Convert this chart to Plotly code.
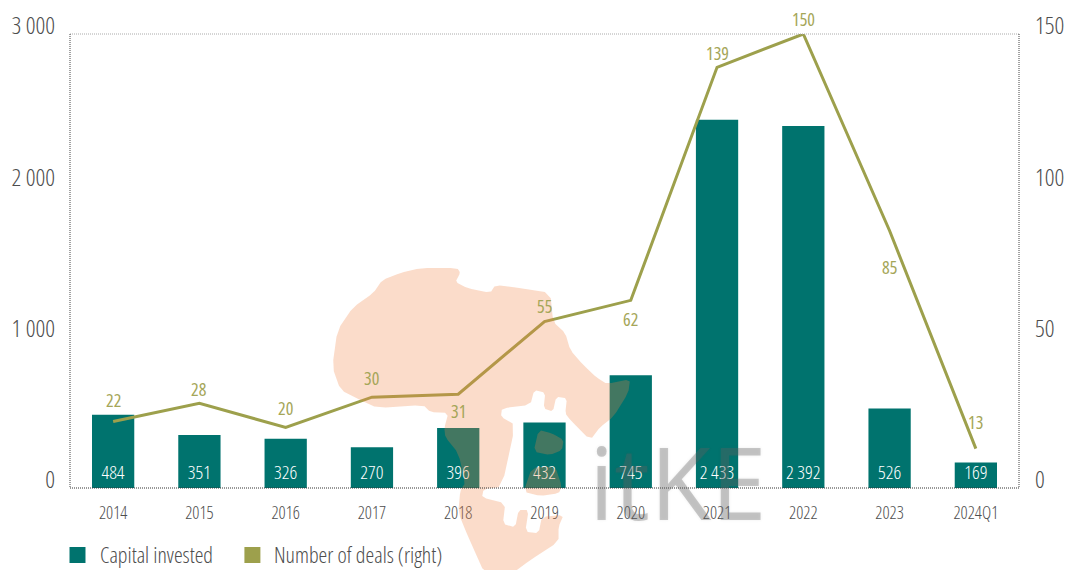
import plotly.graph_objects as go

years = ["2014", "2015", "2016", "2017", "2018", "2019", "2020", "2021", "2022", "2023", "2024Q1"]
capital = [484, 351, 326, 270, 396, 432, 745, 2433, 2392, 526, 169]
deals = [22, 28, 20, 30, 31, 55, 62, 139, 150, 85, 13]
deal_label_shift = [21, 14, 19, 19, -17, 16, -19, 14, 15, -36, 27]
y_ticks = [0, 1000, 2000, 3000]
y2_ticks = [0, 50, 100, 150]

TEAL = "#00736e"
OLIVE = "#9da04c"
LABEL_OLIVE = "#a5a658"
GREY = "#4d4d4d"
FONT = "Open Sans, sans-serif"
W, H = 1067, 570
L, R, T, B = 69.5, 1019, 34, 488


def sp(v):
    return f"{v:,}".replace(",", " ")


def cond(s, stretch="condensed"):
    return f"<span style='font-stretch:{stretch}'>{s}</span>"


def px(x):
    return (x - L) / (R - L)


def py(y):
    return (B - y) / (B - T)


def poly(points):
    return "M" + " L".join(f"{px(x):.4f},{py(y):.4f}" for x, y in points) + " Z"


def soften(points, cut=0.18):
    out = []
    n = len(points)
    for i in range(n):
        (x0, y0), (x1, y1) = points[i], points[(i + 1) % n]
        out.append((x0 + (x1 - x0) * cut, y0 + (y1 - y0) * cut))
        out.append((x1 - (x1 - x0) * cut, y1 - (y1 - y0) * cut))
    return out


def z4(x, y):
    return (430 + x / 3, 370 + y / 3)


# decorative watermark outline, in page pixels
africa = [
    (382, 280), (400, 273), (420, 268), (457, 268), (460, 273), (455, 282), (467, 288), (490, 293),
    (495, 285), (520, 288), (550, 293), (553, 322), (565, 333), (570, 350), (583, 365), (597, 378),
    (607, 384), (630, 379), (628, 393), (613, 417), (600, 427), (590, 440),
    z4(420, 150), z4(405, 130), z4(410, 85), z4(378, 80), z4(368, 125), z4(340, 115), z4(345, 68),
    z4(312, 60), z4(300, 105), z4(215, 115), z4(212, 140), z4(255, 165), z4(215, 350), z4(160, 358),
    z4(155, 382), z4(225, 400), z4(218, 462), z4(255, 472), z4(265, 420), z4(295, 420), z4(285, 485),
    z4(325, 490), z4(335, 440), z4(400, 435), z4(385, 470), z4(385, 515), z4(300, 570), (510, 575),
    (485, 575), (468, 537), (458, 513), (460, 490), (465, 483), (458, 453), (445, 437), (444, 428),
    (448, 413), (430, 412), (423, 405), (377, 408), (360, 400), (340, 390), (332, 367), (337, 330),
    (353, 307), (373, 293),
]
island_upper = [z4(325, 180), z4(365, 190), z4(400, 210), z4(395, 240), z4(360, 255), z4(310, 245)]
island_lower = [z4(305, 292), z4(375, 290), z4(395, 350), z4(385, 370), z4(330, 378), z4(280, 365)]

fig = go.Figure()
fig.add_bar(
    x=list(range(len(years))), y=capital, marker=dict(color=TEAL, line=dict(width=0)),
    text=[cond(sp(v)) for v in capital], textposition="inside", insidetextanchor="start",
    textangle=0, constraintext="none", textfont=dict(color="white", size=19, family=FONT, weight=350),
    cliponaxis=False, showlegend=False, hoverinfo="skip",
)
fig.add_scatter(
    x=list(range(len(years))), y=deals, yaxis="y2", mode="lines", line=dict(color=OLIVE, width=3),
    cliponaxis=False, showlegend=False, hoverinfo="skip",
)

annotations = [
    dict(x=i, y=v, xref="x", yref="y2", text=cond(v), showarrow=False, yshift=s,
         font=dict(size=18, color=LABEL_OLIVE, family=FONT, weight=400))
    for i, (v, s) in enumerate(zip(deals, deal_label_shift))
]
annotations += [
    dict(x=px(98), y=py(554), xref="paper", yref="paper", xanchor="left", yanchor="middle",
         text=cond("Capital invested"), showarrow=False, font=dict(size=22, color=GREY, family=FONT, weight=300)),
    dict(x=px(272), y=py(554), xref="paper", yref="paper", xanchor="left", yanchor="middle",
         text=cond("Number of deals (right)"), showarrow=False, font=dict(size=22, color=GREY, family=FONT, weight=300)),
    dict(x=px(678), y=py(481), xref="paper", yref="paper", xanchor="center", yanchor="middle",
         text=cond("itKE", "92%"), showarrow=False,
         font=dict(size=100, color="rgba(95,95,95,0.32)", family=FONT,
                   shadow="0 0 3px rgba(95,95,95,0.35)")),
]


def dotted(x0, y0, x1, y1, color):
    return dict(type="line", xref="paper", yref="paper", x0=px(x0), y0=py(y0), x1=px(x1), y1=py(y1),
                line=dict(color=color, width=1, dash="1px,1px"), layer="above")


shapes = [
    dict(type="path", xref="paper", yref="paper", layer="above", line=dict(width=0),
         fillcolor="rgba(240,130,66,0.28)",
         path=" ".join(poly(soften(p)) for p in (africa, island_upper, island_lower))),
    dotted(L, T, R, T, "#aaaaaa"),
    dotted(L, T, L, B, "#444444"),
    dotted(R, T, R, B, "#444444"),
    dotted(L, B, R, B, "#333333"),
    dict(type="rect", xref="paper", yref="paper", x0=px(69), x1=px(85), y0=py(547), y1=py(563),
         fillcolor=TEAL, line=dict(width=0)),
    dict(type="rect", xref="paper", yref="paper", x0=px(244), x1=px(260), y0=py(547), y1=py(563),
         fillcolor=OLIVE, line=dict(width=0)),
]

tick_font = dict(size=24, color=GREY, family=FONT, weight=300)
fig.update_layout(
    width=W, height=H, margin=dict(l=L, r=W - R, t=T, b=H - B, autoexpand=False),
    paper_bgcolor="white", plot_bgcolor="white", bargap=0.51,
    font=dict(family=FONT, color=GREY), annotations=annotations, shapes=shapes,
    xaxis=dict(range=[-0.5, len(years) - 0.5], tickvals=list(range(len(years))),
               ticktext=[cond(y) for y in years],
               tickfont=dict(size=17.5, color=GREY, family=FONT, weight=300), ticks="", showgrid=False,
               zeroline=False, showline=False, ticklabelstandoff=12, automargin=False),
    yaxis=dict(range=[0, 3000], tickvals=y_ticks, ticktext=[cond(sp(v)) for v in y_ticks],
               tickfont=tick_font, ticks="", showgrid=False, zeroline=False,
               showline=False, ticklabelstandoff=14, ticklabelshift=-8, automargin=False),
    yaxis2=dict(range=[0, 150], tickvals=y2_ticks, ticktext=[cond(v) for v in y2_ticks],
                overlaying="y", side="right", tickfont=tick_font, ticks="",
                showgrid=False, zeroline=False, showline=False, ticklabelstandoff=15,
                ticklabelshift=-8, automargin=False),
)

fig.write_html("out.html", config=dict(displayModeBar=False),
               post_script="document.body.style.margin='0';")
